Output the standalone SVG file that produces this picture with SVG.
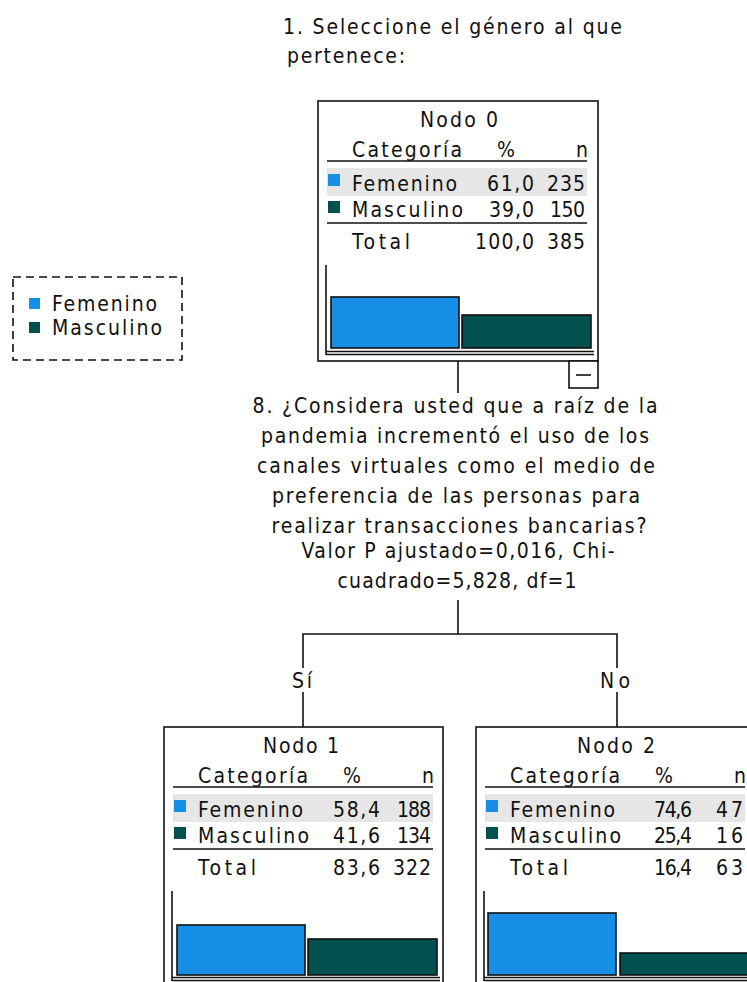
<svg xmlns="http://www.w3.org/2000/svg" width="747" height="982" viewBox="0 0 747 982">
<style>
text{font-family:"Liberation Sans Narrow","DejaVu Sans Condensed","Liberation Sans",sans-serif;font-size:21px;fill:#111}
.bx{fill:#fff;stroke:#111;stroke-width:1.6}
.ln{stroke:#111;stroke-width:1.6;fill:none}
.hl{fill:#e6e6e6}
.fe{fill:#178fe6}
.ma{fill:#02514f}
.bar{stroke:#111;stroke-width:1.6}
.c{text-anchor:middle}
</style>
<rect width="747" height="982" fill="#fff"/>
<defs>
<g id="tbl">
<line class="ln" x1="9" y1="60" x2="269" y2="60"/>
<rect class="hl" x="9" y="67" width="260" height="28"/>
<rect class="fe" x="10" y="73" width="12" height="12"/>
<rect class="ma" x="10" y="100" width="12" height="12"/>
<line class="ln" x1="9" y1="122" x2="269" y2="122"/>
<text x="34" y="56" textLength="110" lengthAdjust="spacing">Categoría</text>
<text x="179" y="56" textLength="16" lengthAdjust="spacing">%</text>
<text x="258" y="56" textLength="10" lengthAdjust="spacing">n</text>
<text x="34" y="90" textLength="105" lengthAdjust="spacing">Femenino</text>
<text x="34" y="116" textLength="111" lengthAdjust="spacing">Masculino</text>
<text x="34" y="148" textLength="58" lengthAdjust="spacing">Total</text>
<line class="ln" x1="8" y1="164" x2="8" y2="254"/>
<line class="ln" x1="8" y1="250.5" x2="276" y2="250.5"/>
<line class="ln" x1="8" y1="253.5" x2="276" y2="253.5"/>
</g>
</defs>

<g id="title">
<text x="283" y="34" textLength="339" lengthAdjust="spacing">1. Seleccione el género al que</text>
<text x="287" y="63" textLength="118" lengthAdjust="spacing">pertenece:</text>
</g>

<g id="legend">
<rect x="13" y="277" width="169" height="83" fill="none" stroke="#111" stroke-width="1.6" stroke-dasharray="8,5"/>
<rect class="fe" x="29" y="298" width="11" height="11"/>
<text x="52" y="311" textLength="105" lengthAdjust="spacing">Femenino</text>
<rect class="ma" x="29" y="322" width="11" height="11"/>
<text x="52" y="335" textLength="110" lengthAdjust="spacing">Masculino</text>
</g>

<g id="connectors">
<line class="ln" x1="458" y1="361" x2="458" y2="393"/>
<line class="ln" x1="458" y1="600" x2="458" y2="634"/>
<polyline class="ln" points="303,668 303,634 617,634 617,668"/>
<line class="ln" x1="303" y1="692" x2="303" y2="727"/>
<line class="ln" x1="617" y1="692" x2="617" y2="727"/>
<text x="292" y="688" textLength="20" lengthAdjust="spacing">Sí</text>
<text x="600" y="688" textLength="30" lengthAdjust="spacing">No</text>
</g>

<g id="node0" transform="translate(318,101)">
<rect class="bx" x="0" y="0" width="280" height="260"/>
<text x="102" y="26" textLength="78" lengthAdjust="spacing">Nodo 0</text>
<use href="#tbl"/>
<text x="169" y="90" textLength="47" lengthAdjust="spacing">61,0</text>
<text x="229" y="90" textLength="38" lengthAdjust="spacing">235</text>
<text x="171" y="116" textLength="45" lengthAdjust="spacing">39,0</text>
<text x="232" y="116" textLength="35" lengthAdjust="spacing">150</text>
<text x="157" y="148" textLength="59" lengthAdjust="spacing">100,0</text>
<text x="229" y="148" textLength="38" lengthAdjust="spacing">385</text>
<rect class="fe bar" x="13" y="196" width="128" height="51"/>
<rect class="ma bar" x="144" y="214" width="129" height="33"/>
<rect class="bx" x="251" y="260" width="29" height="27"/>
<line class="ln" x1="258" y1="274" x2="273" y2="274"/>
</g>

<g id="split">
<text class="c" x="455" y="413" textLength="405" lengthAdjust="spacing">8. ¿Considera usted que a raíz de la</text>
<text class="c" x="455" y="443" textLength="388" lengthAdjust="spacing">pandemia incrementó el uso de los</text>
<text class="c" x="456" y="473" textLength="398" lengthAdjust="spacing">canales virtuales como el medio de</text>
<text class="c" x="456" y="503" textLength="368" lengthAdjust="spacing">preferencia de las personas para</text>
<text class="c" x="459" y="533" textLength="375" lengthAdjust="spacing">realizar transacciones bancarias?</text>
<text class="c" x="458" y="558" textLength="313" lengthAdjust="spacing">Valor P ajustado=0,016, Chi-</text>
<text class="c" x="457" y="588" textLength="239" lengthAdjust="spacing">cuadrado=5,828, df=1</text>
</g>

<g id="node1" transform="translate(164,727)">
<rect class="bx" x="0" y="0" width="279" height="270"/>
<text x="99" y="26" textLength="76" lengthAdjust="spacing">Nodo 1</text>
<use href="#tbl"/>
<text x="169" y="90" textLength="47" lengthAdjust="spacing">58,4</text>
<text x="233" y="90" textLength="34" lengthAdjust="spacing">188</text>
<text x="169" y="116" textLength="47" lengthAdjust="spacing">41,6</text>
<text x="233" y="116" textLength="34" lengthAdjust="spacing">134</text>
<text x="169" y="148" textLength="47" lengthAdjust="spacing">83,6</text>
<text x="229" y="148" textLength="38" lengthAdjust="spacing">322</text>
<rect class="fe bar" x="13" y="198" width="128" height="50"/>
<rect class="ma bar" x="144" y="212" width="129" height="36"/>
</g>

<g id="node2" transform="translate(476,727)">
<rect class="bx" x="0" y="0" width="279" height="270"/>
<text x="101" y="26" textLength="78" lengthAdjust="spacing">Nodo 2</text>
<use href="#tbl"/>
<text x="178" y="90" textLength="38" lengthAdjust="spacing">74,6</text>
<text x="240" y="90" textLength="27" lengthAdjust="spacing">47</text>
<text x="178" y="116" textLength="38" lengthAdjust="spacing">25,4</text>
<text x="240" y="116" textLength="27" lengthAdjust="spacing">16</text>
<text x="178" y="148" textLength="38" lengthAdjust="spacing">16,4</text>
<text x="240" y="148" textLength="27" lengthAdjust="spacing">63</text>
<rect class="fe bar" x="12" y="186" width="128" height="62"/>
<rect class="ma bar" x="144" y="226" width="129" height="22"/>
</g>
</svg>
